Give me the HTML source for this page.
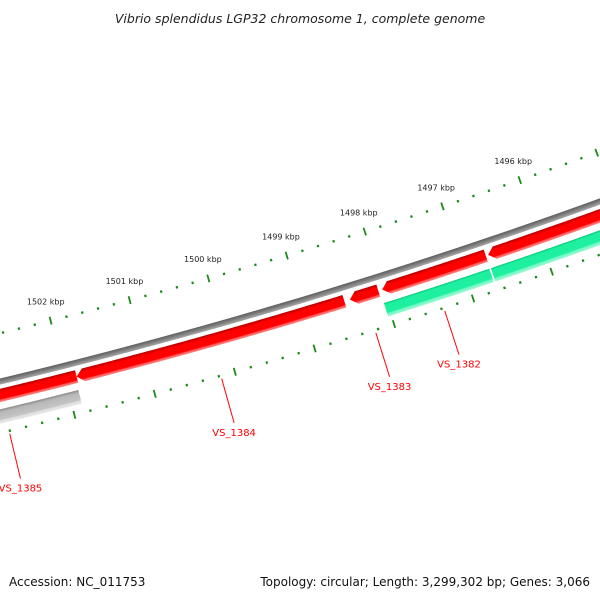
<!DOCTYPE html>
<html><head><meta charset="utf-8"><style>
html,body{margin:0;padding:0;background:#fff;width:600px;height:600px;overflow:hidden}
svg{display:block;font-family:"DejaVu Sans","Liberation Sans",sans-serif}
</style></head><body>
<svg id="map" width="600" height="600" viewBox="0 0 600 600" xmlns="http://www.w3.org/2000/svg">
<defs>
<radialGradient id="gBack" gradientUnits="userSpaceOnUse" cx="-1319" cy="-5102" r="5700">
<stop offset="0.98895" stop-color="#5a5a5a"/><stop offset="0.99" stop-color="#7a7a7a"/><stop offset="0.9900" stop-color="#777"/><stop offset="0.99" stop-color="#888"/><stop offset="0.99" stop-color="#9a9a9a"/>
</radialGradient>
</defs>
<text x="300" y="23" text-anchor="middle" font-size="12.5" font-style="italic" fill="#222">Vibrio splendidus LGP32 chromosome 1, complete genome</text>
<g id="layer"></g>
<text x="9" y="586" font-size="12" fill="#111">Accession: NC_011753</text>
<text x="590" y="586" text-anchor="end" font-size="12" fill="#111">Topology: circular; Length: 3,299,302 bp; Genes: 3,066</text>
</svg>
<script>
// data (kbp)
const tickStart = 1493;
const tickEnd = 1505;
const labelKbp = [1496, 1497, 1498, 1499, 1500, 1501, 1502];
const geneStart = [1501.86, 1498.49, 1498.06, 1496.69, 1494.0, 1496.70, 1494.0, 1501.88];
const geneEnd   = [1504.0, 1501.86, 1498.42, 1498.01, 1496.66, 1498.04, 1496.68, 1503.74];
const geneDir   = [0, 1, 1, 1, 1, 0, 0, 0];
const geneTrack = ['fwd','fwd','fwd','fwd','fwd','rev','rev','grey'];
const geneName  = ['', 'VS_1384', 'VS_1383', '', '', 'VS_1382', '', 'VS_1385'];

const CX=-1319, CY=-5102, T0=1.2942, K=0.0146;
const NS="http://www.w3.org/2000/svg";
const layer=document.getElementById('layer');
function pt(r,kbp){const t=T0+(kbp-1500)*K;return [CX+r*Math.cos(t),CY+r*Math.sin(t)];}
function mk(tag,attrs){const e=document.createElementNS(NS,tag);for(const k in attrs)e.setAttribute(k,attrs[k]);layer.appendChild(e);return e;}
function arcPts(r,a,b){const p=[];const n=60;for(let i=0;i<=n;i++){p.push(pt(r,a+(b-a)*i/n));}return p;}
function band(r0,r1,a,b,dir){
  let pts;
  const rm=(r0+r1)/2, h=7/(rm*K);
  if(dir===1){
    pts=arcPts(r0,a,b-h).concat([pt(rm,b)]).concat(arcPts(r1,a,b-h).reverse());
  } else {
    pts=arcPts(r0,a,b).concat(arcPts(r1,a,b).reverse());
  }
  return 'M'+pts.map(p=>p[0].toFixed(2)+','+p[1].toFixed(2)).join('L')+'Z';
}
function gradient(id,stops){
  const defs=document.querySelector('defs');
  const g=document.createElementNS(NS,'radialGradient');
  g.setAttribute('id',id);g.setAttribute('gradientUnits','userSpaceOnUse');
  g.setAttribute('cx',CX);g.setAttribute('cy',CY);g.setAttribute('r',5800);
  stops.forEach(s=>{const st=document.createElementNS(NS,'stop');st.setAttribute('offset',(s[0]/5800).toFixed(6));st.setAttribute('stop-color',s[1]);g.appendChild(st);});
  defs.appendChild(g);
}
gradient('gb',[[5637,'#5e5e5e'],[5640,'#808080'],[5643,'#a8a8a8']]);
gradient('gf',[[5647,'#b80000'],[5650.5,'#ff0000'],[5657,'#ff0000'],[5658,'#ff5a5a'],[5660,'#ff8080']]);
gradient('gr',[[5667,'#00c878'],[5669,'#1ef0a0'],[5677,'#1ef0a0'],[5678,'#70f7c4'],[5681,'#9af9d2']]);
gradient('gg',[[5667,'#8a8a8a'],[5670,'#b8b8b8'],[5677,'#c4c4c4'],[5678,'#dedede'],[5681,'#e8e8e8']]);
const tracks={fwd:[5647,5660,'url(#gf)'],rev:[5667,5681,'url(#gr)'],grey:[5667,5681,'url(#gg)']};

// backbone
let bb=mk('path',{d:band(5637,5643,tickStart,tickEnd,0),fill:'url(#gb)'});



// ticks
for(let i=Math.round(tickStart*5);i<=Math.round(tickEnd*5);i++){
  const k=i/5, major=(i%5===0);
  [5593,5690].forEach(r=>{
    const d=major?4:1.2;
    const a=pt(r-d,k),b=pt(r+d,k);
    const l=mk('line',{x1:a[0],y1:a[1],x2:b[0],y2:b[1],stroke:'#1a8a1a','stroke-width':major?1.8:2.2});
    
    
  });
}
labelKbp.forEach(k=>{
  const p=pt(5573,k);
  const t=mk('text',{x:p[0],y:p[1]+3,'text-anchor':'middle','font-size':'8',fill:'#222'});
  t.textContent=k+' kbp';
  
  
});

// genes
for(let i=0;i<geneStart.length;i++){
  const tr=tracks[geneTrack[i]];
  const g=mk('path',{d:band(tr[0],tr[1],geneStart[i],geneEnd[i],geneDir[i]),fill:tr[2]});
  
  
  if(geneName[i]){
    const m=(geneStart[i]+geneEnd[i])/2;
    const a=pt(5693,m),b=pt(5739,m);
    const l=mk('line',{x1:a[0],y1:a[1],x2:b[0],y2:b[1],stroke:'#ff0000','stroke-width':1});
    
    
    const t=mk('text',{x:b[0],y:b[1]+13,'text-anchor':'middle','font-size':'10',fill:'#ff0000'});
    t.textContent=geneName[i];
    
    
  }
}
</script>
</body></html>
